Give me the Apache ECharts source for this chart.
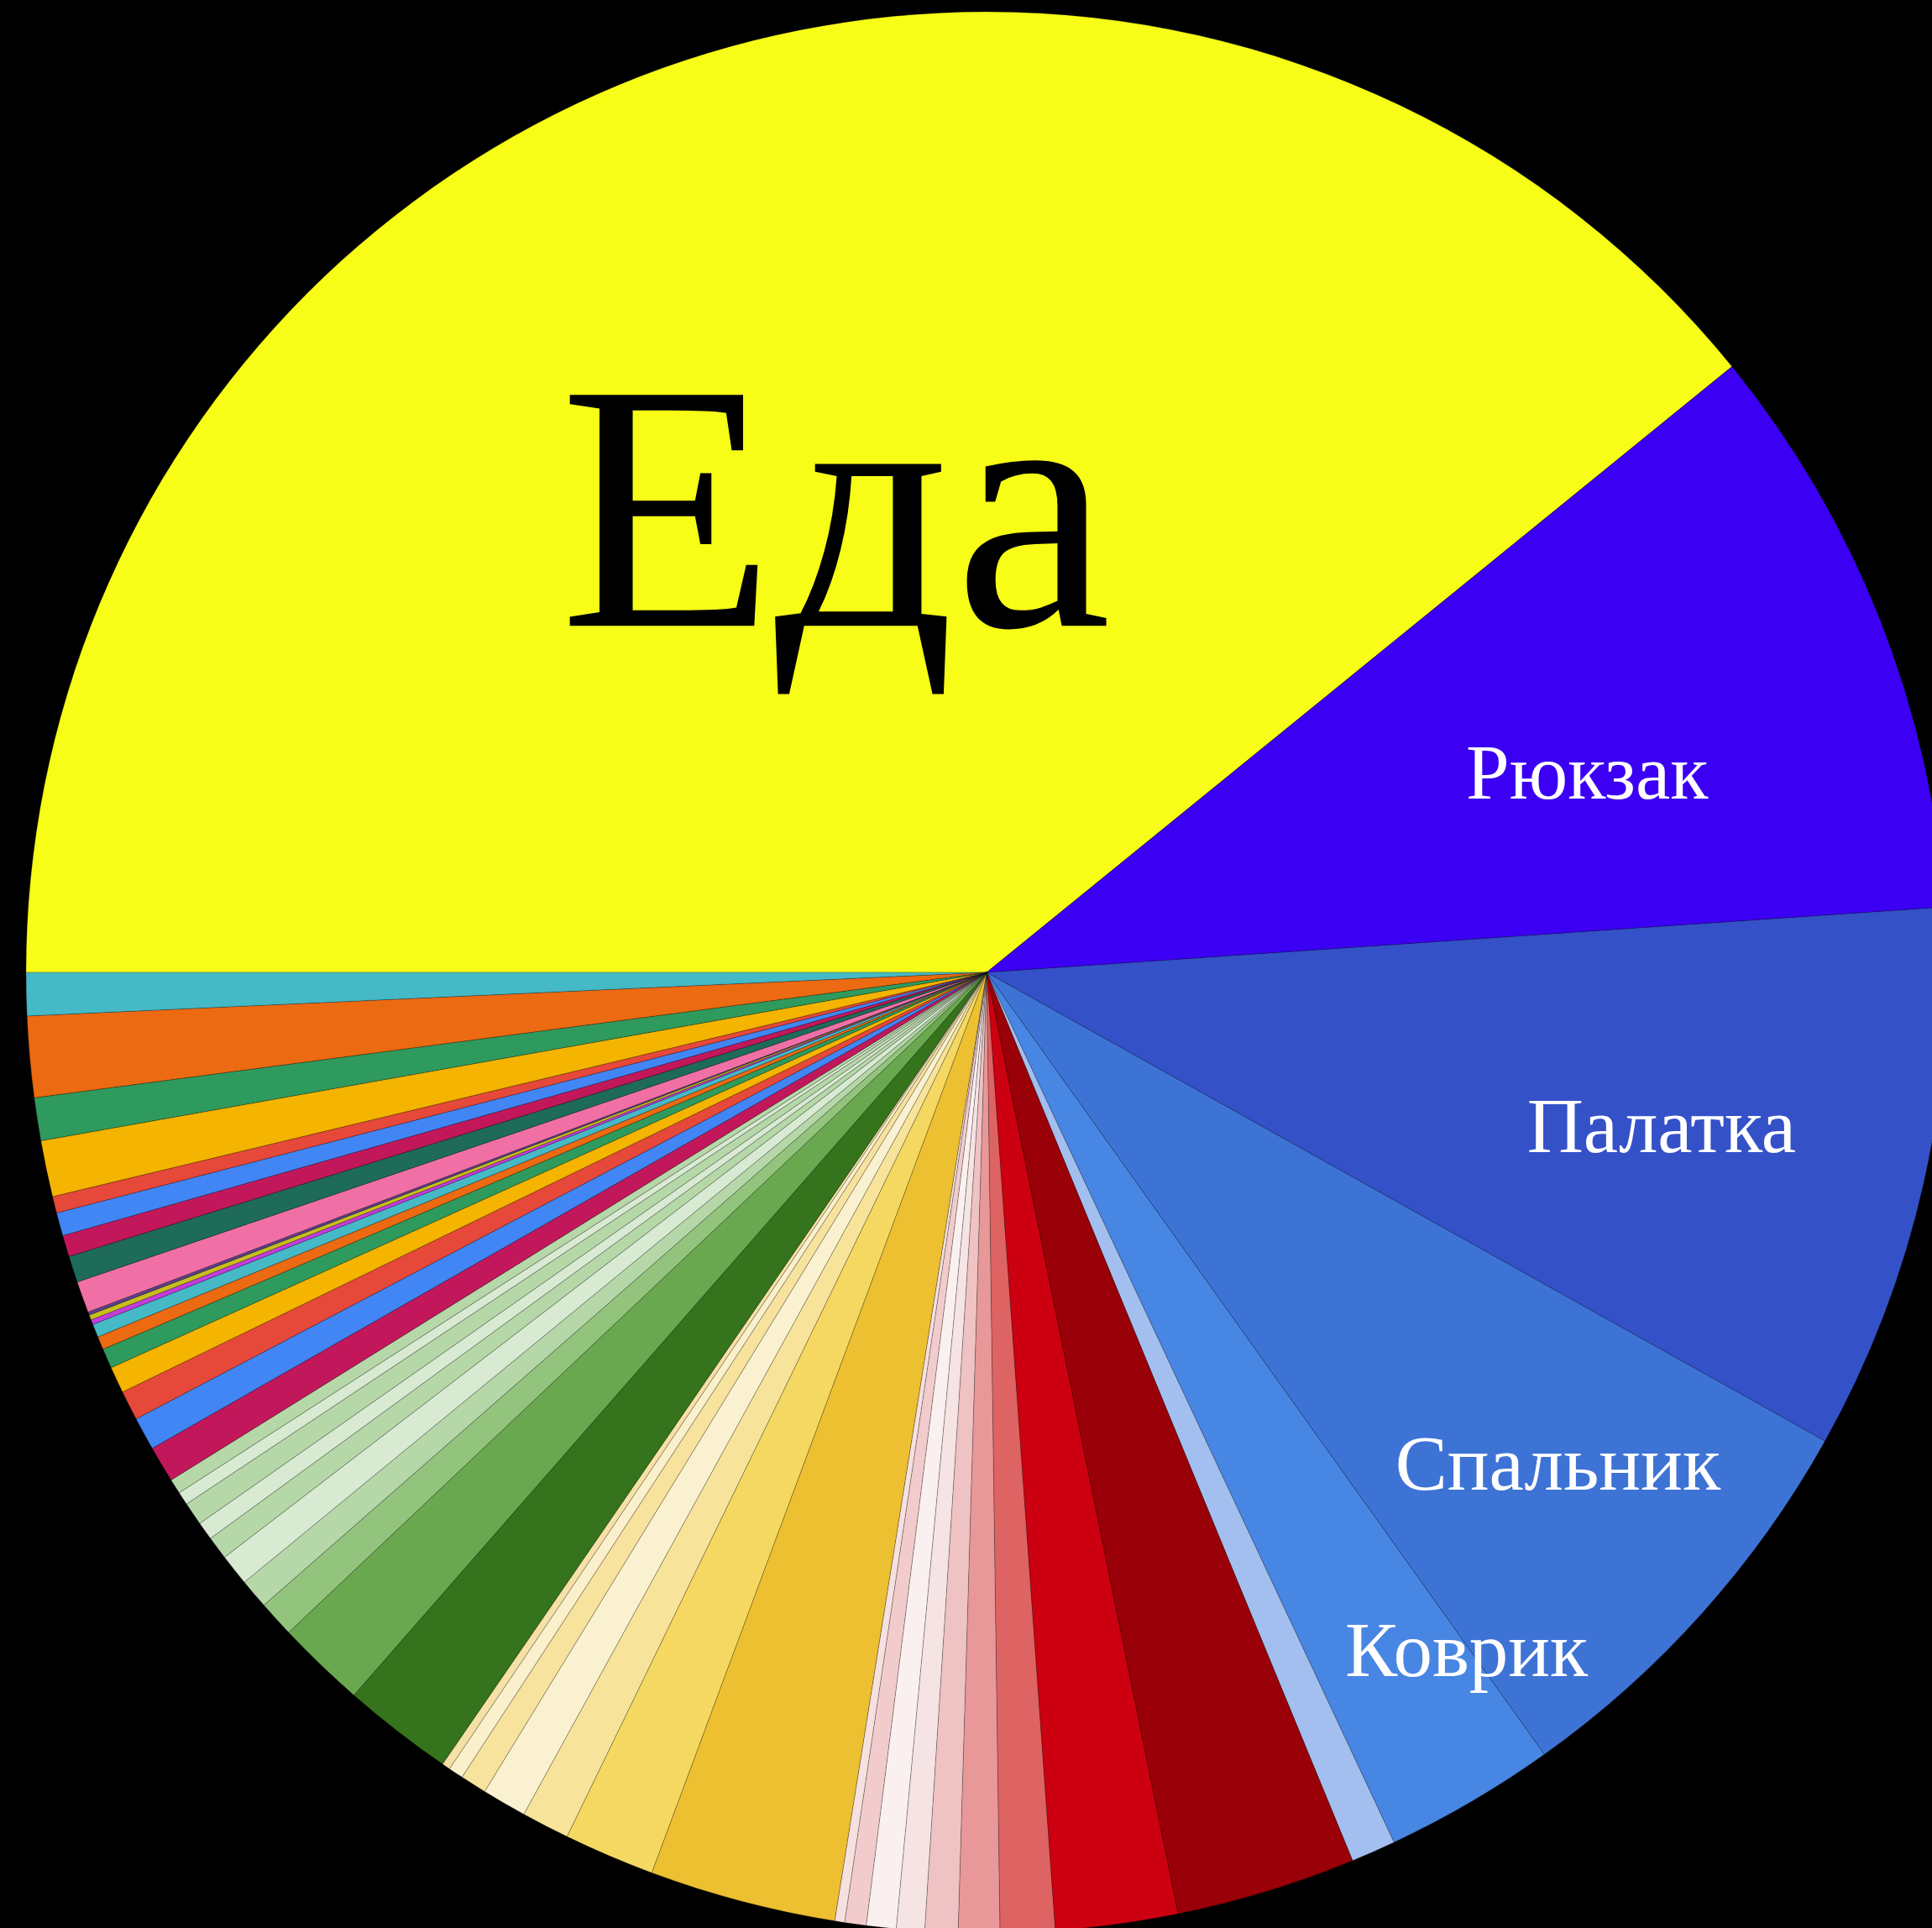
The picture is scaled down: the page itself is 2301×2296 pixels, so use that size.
<!DOCTYPE html>
<html>
<head>
<meta charset="utf-8">
<title>Снаряжение</title>
<script src="https://cdn.jsdelivr.net/npm/echarts@6/dist/echarts.min.js"></script>
<style>
  html, body { margin: 0; padding: 0; background: #000; }
  #chart { width: 2301px; height: 2296px; }
</style>
</head>
<body>
<div id="chart"></div>
<script>
// named slices come first; everything after them is unlabeled in the picture
const labeledNames = ['Еда', 'Рюкзак', 'Палатка', 'Спальник', 'Коврик'];

// slice weights, clockwise starting from 9 o'clock
const values = [
  140.9, 35.2, 33.1, 25.3, 10.4,
  // light blue, reds, pinks
  2.7, 10.9, 7.4, 3.3, 2.5, 2.0, 1.7, 1.8, 1.3, 0.6,
  // yellows
  11.3, 5.5, 2.9, 2.7, 1.6, 0.9, 0.5,
  // greens
  6.7, 5.4, 2.2, 1.8, 1.9, 1.4, 1.1, 1.4, 0.8, 0.9,
  // multicoloured stripes on the left
  2.2, 2.0, 1.8, 1.6, 1.2, 0.8, 0.8, 0.3, 0.3, 0.2,
  1.9, 1.6, 1.3, 1.4, 1.0, 3.4, 2.6, 4.9, 2.6,
];

const colors = [
  '#f7fd17', '#3b00f3', '#3551c8', '#3e73d6', '#4886e3',
  '#a3bfef', '#9a0007', '#cc0010', '#de6363', '#e89898', '#efc3c3', '#f6e3e3', '#faf0f0', '#f2cccc', '#f6e0e0',
  '#edc032', '#f5d862', '#f7e49a', '#faf1d0', '#f7e29e', '#fbf0cc', '#f5e0a5',
  '#35731c', '#6aa84f', '#93c47d', '#b6d7a8', '#d9ead3', '#b6d7a8', '#d9ead3', '#b6d7a8', '#d9ead3', '#b6d7a8',
  '#c2185b', '#4285f4', '#e6483a', '#f4b400', '#2f9a5d', '#ec6a12', '#46b9c6', '#c43cdc', '#c8be1e', '#5a3f8a',
  '#f070a6', '#1f6b5a', '#c2185b', '#4285f4', '#e6483a', '#f4b400', '#2f9a5d', '#ec6a12', '#46b9c6',
];

// label anchor: [angle in degrees, fraction of radius]
const labelSpots = {
  'Еда': [109.0, 0.4835],
  'Рюкзак': [17.9, 0.657],
  'Палатка': [-13.3, 0.722],
  'Спальник': [-41.0, 0.788],
  'Коврик': [-54.9, 0.869],
};

const cx = 1175;
const cy = 1158;
const R = 1144;

const data = values.map((v, i) => {
  const name = labeledNames[i] || `прочее ${i - labeledNames.length + 1}`;
  const item = { name, value: v, itemStyle: { color: colors[i] } };
  if (labeledNames[i]) {
    item.label = {
      show: true,
      color: i === 0 ? '#000' : '#fff',
      fontSize: i === 0 ? 420 : 93,
    };
  }
  return item;
});

const chart = echarts.init(document.getElementById('chart'));
chart.setOption({
  backgroundColor: '#000',
  animation: false,
  series: [
    {
      type: 'pie',
      center: [cx, cy],
      radius: R,
      startAngle: 180,
      clockwise: true,
      avoidLabelOverlap: false,
      silent: true,
      itemStyle: {
        borderColor: 'rgba(0,0,0,0.22)',
        borderWidth: 1,
      },
      label: {
        show: false,
        position: 'inside',
        fontFamily: 'Liberation Serif',
        formatter: '{b}',
      },
      labelLine: { show: false },
      labelLayout(params) {
        const spot = labelSpots[data[params.dataIndex].name];
        if (!spot) return {};
        const a = (spot[0] * Math.PI) / 180;
        return {
          x: cx + spot[1] * R * Math.cos(a),
          y: cy - spot[1] * R * Math.sin(a),
          align: 'center',
          verticalAlign: 'middle',
        };
      },
      data,
    },
  ],
});
</script>
</body>
</html>
